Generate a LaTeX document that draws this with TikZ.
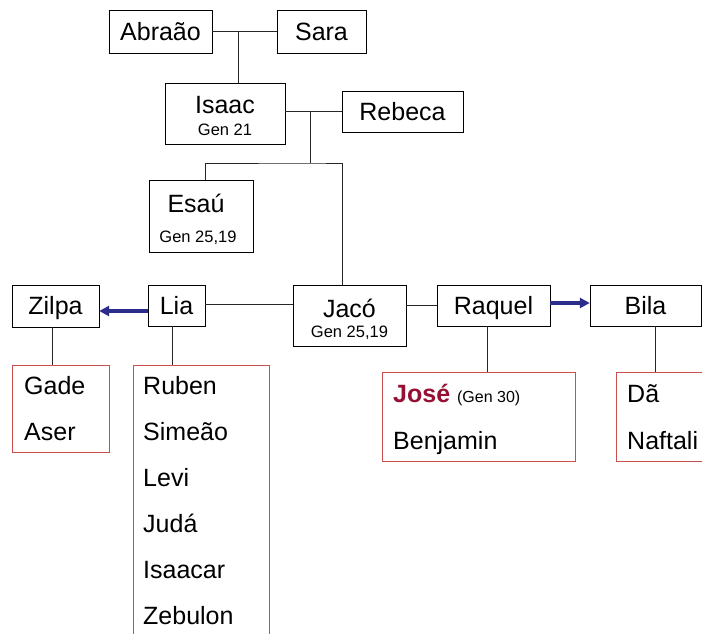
\documentclass[tikz,border=0pt]{standalone}
\usepackage{fontspec}
\setmainfont{Liberation Sans}
\usetikzlibrary{arrows.meta}

\definecolor{listred}{RGB}{200,80,78}
\definecolor{maidblue}{RGB}{44,44,140}
\definecolor{josered}{RGB}{150,16,52}
\newcommand{\namefont}{\fontsize{25}{29}\selectfont}
\newcommand{\genfont}{\fontsize{16.5}{19}\selectfont}

\tikzset{
  person/.style={draw, rectangle, inner sep=0pt, font=\namefont,
    text height=17.5pt, text depth=0pt},
  sons/.style={draw=listred, rectangle, inner sep=0pt, line width=0.9pt},
  son/.style={anchor=base west, inner sep=0pt, font=\namefont},
  note/.style={anchor=base, inner sep=0pt, font=\genfont},
  tie/.style={draw=black!85, line width=0.9pt},
  maid/.style={draw=maidblue, line width=3.2pt,
    -{Triangle[length=10pt,width=10pt]}}
}

\begin{document}
\begin{tikzpicture}[x=1pt,y=-1pt]
  \useasboundingbox (0,0) rectangle (702,633);
  \fill[white] (0,0) rectangle (702,633);

  % first generations
  \node[person, minimum width=103pt, minimum height=43pt] (abraao) at (160.5,31.5) {Abraão};
  \node[person, minimum width=89pt, minimum height=43pt] (sara) at (321.5,31.5) {Sara};
  \node[person, minimum width=120pt, minimum height=61pt] (isaac) at (225,113.5) {};
  \node[note, font=\namefont] (isaacname) at (225,113) {Isaac};
  \node[note] (isaacgen) at (225,135) {Gen 21};
  \node[person, minimum width=121pt, minimum height=41pt] (rebeca) at (402.5,111.5) {Rebeca};
  \node[person, minimum width=104pt, minimum height=72pt] (esau) at (201,216) {};
  \node[note, font=\namefont] (esauname) at (196,212) {Esaú};
  \node[note] (esaugen) at (198,242) {Gen 25,19};

  % Jacob and his wives
  \node[person, minimum width=113pt, minimum height=61pt] (jaco) at (349.5,315.5) {};
  \node[note, font=\namefont] (jaconame) at (349.5,317) {Jacó};
  \node[note] (jacogen) at (349.5,337) {Gen 25,19};
  \node[person, minimum width=87pt, minimum height=42pt] (zilpa) at (55.5,306) {Zilpa};
  \node[person, minimum width=57pt, minimum height=41pt] (lia) at (176.5,305.5) {Lia};
  \node[person, minimum width=113pt, minimum height=41pt] (raquel) at (493.5,305.5) {Raquel};
  \node[person, minimum width=111pt, minimum height=41pt] (bila) at (645.5,305.5) {Bila};

  % the sons
  \node[sons, minimum width=97pt, minimum height=87pt] (zilpasons) at (60.5,408.5) {};
  \node[sons, minimum width=136pt, minimum height=272pt] (liasons) at (201,501) {};
  \node[sons, minimum width=193pt, minimum height=89pt] (raquelsons) at (478.5,416.5) {};
  \node[sons, minimum width=96pt, minimum height=89pt] (bilasons) at (664,416.5) {};

  \node[son] (gade) at (24,394) {Gade};
  \node[son] (aser) at (24,440) {Aser};
  \foreach \n [count=\i] in {Ruben,Simeão,Levi,Judá,Isaacar,Zebulon}
    \node[son] (lia\i) at (143,348+46*\i) {\n};
  \node[son] (jose) at (393,402) {\textcolor{josered}{\textbf{José}} {\fontsize{16}{18}\selectfont(Gen 30)}};
  \node[son] (benjamin) at (393,449) {Benjamin};
  \node[son] (da) at (627,402) {Dã};
  \node[son] (naftali) at (627,449) {Naftali};

  % connectors
  \coordinate (abs) at (238,31.5);
  \coordinate (isr) at (310,111.5);
  \coordinate (sib) at (310,163);
  \draw[tie] (abraao.east) -- (sara.west);
  \draw[tie] (abs) -- (abs|-isaac.north);
  \draw[tie] (isaac.east|-rebeca) -- (rebeca.west);
  \draw[tie] (isr) -- (sib);
  \draw[tie] ([xshift=4pt]esau.north) |- (sib) -| ([xshift=-7.5pt]jaco.north);
  \draw[tie] ([yshift=1.5pt]lia.east) -- ([yshift=1.5pt]lia.east-|jaco.west);
  \draw[tie] (raquel.west-|jaco.east) -- (raquel.west);
  \draw[maid] ([yshift=-5.5pt]lia.west) -- ([yshift=-5.5pt]lia.west-|zilpa.east);
  \draw[maid] ([yshift=2.5pt]raquel.east) -- ([yshift=2.5pt]raquel.east-|bila.west);
  \draw[tie] ([xshift=-3.5pt]zilpa.south) -- ([xshift=-3.5pt]zilpa.south|-zilpasons.north);
  \draw[tie] ([xshift=-4.5pt]lia.south) -- ([xshift=-4.5pt]lia.south|-liasons.north);
  \draw[tie] ([xshift=-6.5pt]raquel.south) -- ([xshift=-6.5pt]raquel.south|-raquelsons.north);
  \draw[tie] ([xshift=9.5pt]bila.south) -- ([xshift=9.5pt]bila.south|-bilasons.north);
\end{tikzpicture}
\end{document}
